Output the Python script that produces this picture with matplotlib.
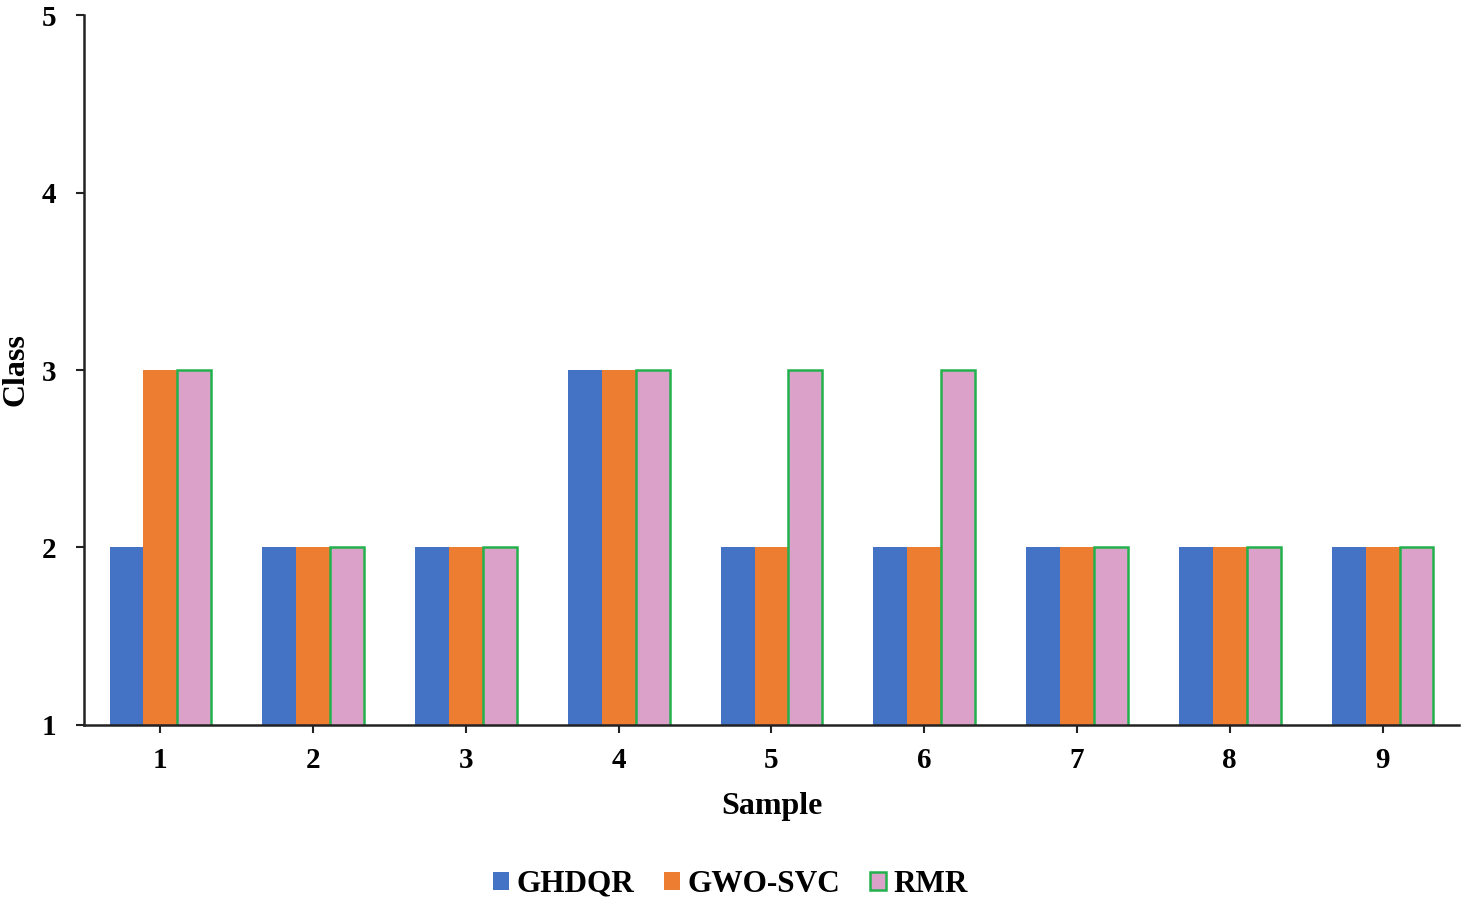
import numpy as np
import matplotlib.pyplot as plt

samples = [1, 2, 3, 4, 5, 6, 7, 8, 9]
ghdqr = [2, 2, 2, 3, 2, 2, 2, 2, 2]
gwo_svc = [3, 2, 2, 3, 2, 2, 2, 2, 2]
rmr = [3, 2, 2, 3, 3, 3, 2, 2, 2]

plt.rcParams['font.family'] = ['Liberation Serif', 'DejaVu Serif']
plt.rcParams['font.weight'] = 'bold'

fig = plt.figure(figsize=(14.61, 9.06), dpi=100)
ax = fig.add_axes([0.0575, 0.1998, 0.9411, 0.7836])

x = np.array(samples)
w = 0.222
ax.bar(x - w, ghdqr, w, color='#4472C4', label='GHDQR')
ax.bar(x, gwo_svc, w, color='#ED7D31', label='GWO-SVC')
ax.bar(x + w, rmr, w, color='#DBA1C9', edgecolor='#22B14C', linewidth=1.8, label='RMR')

ax.set_xlim(0.5, 9.5)
ax.set_ylim(1, 5)
ax.set_xticks(samples)
ax.set_yticks([1, 2, 3, 4, 5])
ax.tick_params(axis='both', labelsize=21, length=6, width=1.5, color='#222222')
ax.tick_params(axis='x', pad=10)
ax.tick_params(axis='y', pad=14)
for s in ['top', 'right']:
    ax.spines[s].set_visible(False)
for s in ['left', 'bottom']:
    ax.spines[s].set_linewidth(1.8)
    ax.spines[s].set_color('#222222')

ax.set_xlabel('Sample', fontsize=23, fontweight='bold')
ax.xaxis.set_label_coords(0.5, -0.095)
# y label placed by hand so it sits near the left edge like the original
fig.text(16 / 1461, 1 - 370 / 906, 'Class', rotation=90, ha='center', va='center',
         fontsize=23, fontweight='bold')

fig.legend(loc='center', bbox_to_anchor=(0.5, 0.024), ncol=3, frameon=False,
           fontsize=22.5, handlelength=0.5, handleheight=0.5, handletextpad=0.25,
           columnspacing=0.95)

fig.savefig('out.png', dpi=100)
